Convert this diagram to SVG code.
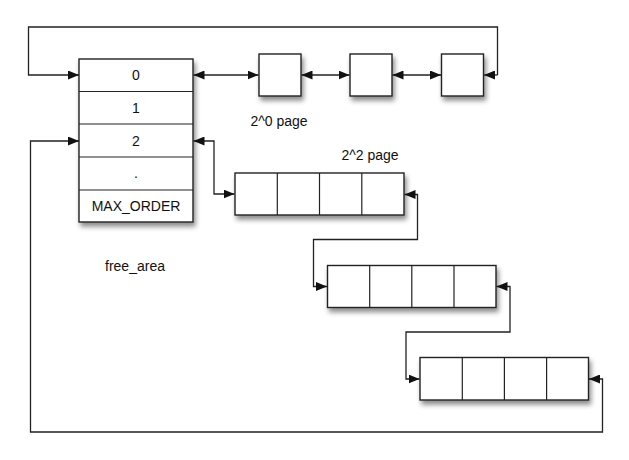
<svg xmlns="http://www.w3.org/2000/svg" width="629" height="460" viewBox="0 0 629 460">
<style>
.box{fill:#fff;stroke:#222;stroke-width:1.4}
.cell{fill:none;stroke:#222;stroke-width:1.2}
.ln{fill:none;stroke:#222;stroke-width:1.3}
text{font-family:"Liberation Sans",Arial,sans-serif;font-size:14px;fill:#111}
.c{text-anchor:middle}
</style>
<defs>
<filter id="sh" x="-20%" y="-20%" width="140%" height="150%">
<feDropShadow dx="2" dy="4" stdDeviation="2.5" flood-color="#000" flood-opacity="0.45"/>
</filter>
<marker id="ah" markerUnits="userSpaceOnUse" markerWidth="12" markerHeight="9" refX="11" refY="4.5" orient="auto-start-reverse">
<path d="M0,0 L11,4.5 L0,9 z" fill="#111"/>
</marker>
</defs>
<rect width="629" height="460" fill="#fff"/>
<g id="free_area">
<rect class="box" x="79" y="59" width="114" height="163" filter="url(#sh)"/>
<line class="cell" x1="79" y1="91.5" x2="193" y2="91.5"/>
<line class="cell" x1="79" y1="124" x2="193" y2="124"/>
<line class="cell" x1="79" y1="157" x2="193" y2="157"/>
<line class="cell" x1="79" y1="190" x2="193" y2="190"/>
<text class="c" x="136" y="80">0</text>
<text class="c" x="136" y="113">1</text>
<text class="c" x="136" y="146">2</text>
<text class="c" x="136" y="178">.</text>
<text class="c" x="136" y="211">MAX_ORDER</text>
</g>
<g id="free_area_label"><text class="c" x="135" y="271">free_area</text></g>
<g id="page0a"><rect class="box" x="259" y="54" width="42" height="42" filter="url(#sh)"/></g>
<g id="page0b"><rect class="box" x="350" y="54" width="42" height="42" filter="url(#sh)"/></g>
<g id="page0c"><rect class="box" x="441.5" y="54" width="42" height="42" filter="url(#sh)"/></g>
<g id="label0"><text class="c" x="279" y="126">2^0 page</text></g>
<g id="label2"><text class="c" x="370" y="160">2^2 page</text></g>
<g id="page2a">
<rect class="box" x="235" y="173" width="169" height="42" filter="url(#sh)"/>
<line class="cell" x1="277.3" y1="173" x2="277.3" y2="215"/>
<line class="cell" x1="319.5" y1="173" x2="319.5" y2="215"/>
<line class="cell" x1="361.8" y1="173" x2="361.8" y2="215"/>
</g>
<g id="page2b">
<rect class="box" x="327.5" y="265.5" width="168.5" height="42" filter="url(#sh)"/>
<line class="cell" x1="369.7" y1="265.5" x2="369.7" y2="307.5"/>
<line class="cell" x1="411.8" y1="265.5" x2="411.8" y2="307.5"/>
<line class="cell" x1="454" y1="265.5" x2="454" y2="307.5"/>
</g>
<g id="page2c">
<rect class="box" x="420" y="357.5" width="168.5" height="42.5" filter="url(#sh)"/>
<line class="cell" x1="462.3" y1="357.5" x2="462.3" y2="400"/>
<line class="cell" x1="504.4" y1="357.5" x2="504.4" y2="400"/>
<line class="cell" x1="546.6" y1="357.5" x2="546.6" y2="400"/>
</g>
<g id="connectors">
<polyline class="ln" points="497.5,75 497.5,27 28.5,27 28.5,75 79,75" marker-end="url(#ah)"/>
<line class="ln" x1="497.5" y1="75" x2="484" y2="75" marker-end="url(#ah)"/>
<line class="ln" x1="193.5" y1="75" x2="258.5" y2="75" marker-start="url(#ah)" marker-end="url(#ah)"/>
<line class="ln" x1="301.5" y1="75" x2="349.5" y2="75" marker-start="url(#ah)" marker-end="url(#ah)"/>
<line class="ln" x1="392.5" y1="75" x2="441" y2="75" marker-start="url(#ah)" marker-end="url(#ah)"/>
<polyline class="ln" points="193.5,141 214,141 214,194 234.5,194" marker-start="url(#ah)" marker-end="url(#ah)"/>
<polyline class="ln" points="404.5,194.5 417.5,194.5 417.5,239.5 313.5,239.5 313.5,286.5 327,286.5" marker-start="url(#ah)" marker-end="url(#ah)"/>
<polyline class="ln" points="496.5,286.5 510,286.5 510,332 406,332 406,379 419.5,379" marker-start="url(#ah)" marker-end="url(#ah)"/>
<polyline class="ln" points="589,379 602.5,379 602.5,432 30.5,432 30.5,141 79,141" marker-start="url(#ah)" marker-end="url(#ah)"/>
</g>
</svg>
